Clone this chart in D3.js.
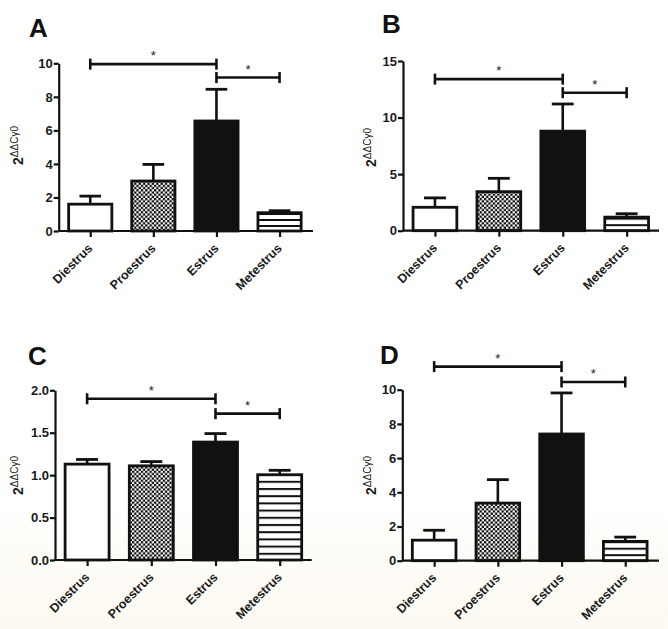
<!DOCTYPE html>
<html>
<head>
<meta charset="utf-8">
<script src="https://cdn.jsdelivr.net/npm/d3@7"></script>
<style>
  html, body { margin: 0; padding: 0; background: #fff; }
  svg { display: block; }
  text { font-family: "Liberation Sans", Arial, sans-serif; }
</style>
</head>
<body>
<svg id="chart" width="668" height="629"></svg>
<script>
// ---------------- data ----------------
const categories = ["Diestrus", "Proestrus", "Estrus", "Metestrus"];

const meansA = [1.60, 2.98, 6.56, 1.09];
const semA   = [0.48, 0.99, 1.89, 0.12];
const ticksA = [0, 2, 4, 6, 8, 10];
const sigA   = [9.95, 9.15];

const meansB = [2.07, 3.45, 8.80, 1.20];
const semB   = [0.83, 1.18, 2.40, 0.30];
const ticksB = [0, 5, 10, 15];
const sigB   = [13.4, 12.2];

const meansC = [1.13, 1.11, 1.39, 1.005];
const semC   = [0.055, 0.05, 0.10, 0.052];
const ticksC = [0, 0.5, 1.0, 1.5, 2.0];
const sigC   = [1.90, 1.725];

const meansD = [1.20, 3.37, 7.41, 1.13];
const semD   = [0.58, 1.37, 2.40, 0.25];
const ticksD = [0, 2, 4, 6, 8, 10];
const sigD   = [11.35, 10.45];

// significance comparisons (category pairs)
const sigPairs = [["Diestrus", "Estrus"], ["Estrus", "Metestrus"]];

const panelLetters = ["A", "B", "C", "D"];

// ---------------- layout ----------------
const layouts = [
  { x0: 58.7, xEnd: 313, step: 63.1, y0: 231,   yTop: 63.3,  letter: [29, 37],  ylab: 23,  ylabY: 165, fmt: d3.format("d"),  stripe: 6 },
  { x0: 403,  xEnd: 659, step: 63.9, y0: 230.7, yTop: 61,    letter: [382, 33], ylab: 376, ylabY: 167, fmt: d3.format("d"),  stripe: 6.5 },
  { x0: 55,   xEnd: 311.7, step: 64.2, y0: 560, yTop: 390.3, letter: [28, 365], ylab: 23,  ylabY: 495, fmt: d3.format(".1f"), stripe: 7.2 },
  { x0: 402.3, xEnd: 659, step: 63.7, y0: 560.7, yTop: 389.7, letter: [380, 364], ylab: 376, ylabY: 495, fmt: d3.format("d"), stripe: 6.5 }
];

const panels = [
  { means: meansA, sem: semA, ticks: ticksA, sig: sigA },
  { means: meansB, sem: semB, ticks: ticksB, sig: sigB },
  { means: meansC, sem: semC, ticks: ticksC, sig: sigC },
  { means: meansD, sem: semD, ticks: ticksD, sig: sigD }
];

const svg = d3.select("#chart");
const defs = svg.append("defs");

// background: white fading to a faint cream at the bottom
const bg = defs.append("linearGradient").attr("id", "bg").attr("x1", 0).attr("x2", 0).attr("y1", 0).attr("y2", 1);
bg.append("stop").attr("offset", "0.8").attr("stop-color", "#ffffff");
bg.append("stop").attr("offset", "0.9").attr("stop-color", "#fdfbf5");
bg.append("stop").attr("offset", "1").attr("stop-color", "#fcfaf2");
svg.append("rect").attr("width", 668).attr("height", 629).attr("fill", "url(#bg)");

// checker pattern
const chk = defs.append("pattern").attr("id", "checker").attr("patternUnits", "userSpaceOnUse")
  .attr("width", 4.4).attr("height", 4.4);
chk.append("rect").attr("width", 4.4).attr("height", 4.4).attr("fill", "#fff");
chk.append("rect").attr("width", 2.2).attr("height", 2.2).attr("fill", "#000");
chk.append("rect").attr("x", 2.2).attr("y", 2.2).attr("width", 2.2).attr("height", 2.2).attr("fill", "#000");

layouts.forEach((L, i) => {
  const p = defs.append("pattern").attr("id", "stripe" + i).attr("patternUnits", "userSpaceOnUse")
    .attr("width", 10).attr("height", L.stripe).attr("y", L.y0);
  p.append("rect").attr("width", 10).attr("height", L.stripe).attr("fill", "#fff");
  p.append("rect").attr("y", 0).attr("width", 10).attr("height", 2).attr("fill", "#111");
});

const fills = ["#fff", "url(#checker)", "#111", null];

panels.forEach((P, i) => {
  const L = layouts[i];
  const g = svg.append("g");

  const x = d3.scalePoint().domain(categories)
    .range([L.x0, L.x0 + L.step * categories.length]).padding(0.5);
  const yMax = P.ticks[P.ticks.length - 1];
  const y = d3.scaleLinear().domain([0, yMax]).range([L.y0, L.yTop]);
  const bw = L.step * 0.685;

  // bars
  g.selectAll("rect.bar").data(categories).join("rect")
    .attr("class", "bar")
    .attr("x", d => x(d) - bw / 2)
    .attr("y", (d, k) => y(P.means[k]))
    .attr("width", bw)
    .attr("height", (d, k) => L.y0 - y(P.means[k]))
    .attr("fill", (d, k) => fills[k] || ("url(#stripe" + i + ")"))
    .attr("stroke", "#111")
    .attr("stroke-width", 2.8);

  // error bars (upper only)
  g.selectAll("line.err").data(categories).join("line")
    .attr("x1", d => x(d)).attr("x2", d => x(d))
    .attr("y1", (d, k) => y(P.means[k]))
    .attr("y2", (d, k) => y(P.means[k] + P.sem[k]))
    .attr("stroke", "#111").attr("stroke-width", 2.6);
  g.selectAll("line.cap").data(categories).join("line")
    .attr("x1", d => x(d) - bw / 4).attr("x2", d => x(d) + bw / 4)
    .attr("y1", (d, k) => y(P.means[k] + P.sem[k]))
    .attr("y2", (d, k) => y(P.means[k] + P.sem[k]))
    .attr("stroke", "#111").attr("stroke-width", 2.8);

  // y axis
  const yAxis = d3.axisLeft(y).tickValues(P.ticks).tickFormat(L.fmt).tickSize(5).tickSizeOuter(0);
  const ya = g.append("g").attr("transform", `translate(${L.x0},0)`).call(yAxis);
  ya.select(".domain").attr("stroke", "#111").attr("stroke-width", 2.2);
  ya.selectAll(".tick line").attr("stroke", "#111").attr("stroke-width", 2.2);
  ya.selectAll(".tick text").attr("font-size", "13px").attr("font-weight", "bold")
    .attr("fill", "#1a1a1a").attr("x", -6).attr("font-family", "Liberation Sans, Arial, sans-serif");

  // x axis
  const xAxis = d3.axisBottom(x).tickSize(6).tickSizeOuter(0).tickFormat("");
  const xa = g.append("g").attr("transform", `translate(0,${L.y0})`).call(xAxis);
  xa.select(".domain").remove();
  xa.append("line").attr("x1", L.x0).attr("x2", L.xEnd).attr("y1", 0).attr("y2", 0)
    .attr("stroke", "#111").attr("stroke-width", 2.2);
  xa.selectAll(".tick line").attr("stroke", "#111").attr("stroke-width", 2.2);

  g.selectAll("text.cat").data(categories).join("text")
    .attr("class", "cat")
    .attr("transform", d => `translate(${x(d) + 3},${L.y0 + 18}) rotate(-45)`)
    .attr("text-anchor", "end")
    .attr("font-size", "12.5px").attr("font-weight", "bold").attr("fill", "#1a1a1a")
    .text(d => d);

  // y label (starts at the bottom, reads upward)
  const yl = g.append("text")
    .attr("transform", `translate(${L.ylab},${L.ylabY}) rotate(-90)`)
    .attr("text-anchor", "start").attr("fill", "#1a1a1a");
  yl.append("tspan").attr("font-size", "14px").attr("font-weight", "bold").text("2");
  yl.append("tspan").attr("font-size", "10px").attr("dy", "-5").text("ΔΔCγ0");

  // significance brackets
  sigPairs.forEach((pair, s) => {
    const xa1 = x(pair[0]), xa2 = x(pair[1]), yy = y(P.sig[s]);
    const sg = g.append("g").attr("stroke", "#111").attr("stroke-width", 2.6);
    sg.append("line").attr("x1", xa1).attr("x2", xa2).attr("y1", yy).attr("y2", yy);
    sg.append("line").attr("x1", xa1).attr("x2", xa1).attr("y1", yy - 5.5).attr("y2", yy + 5.5);
    sg.append("line").attr("x1", xa2).attr("x2", xa2).attr("y1", yy - 5.5).attr("y2", yy + 5.5);
    g.append("text").attr("x", (xa1 + xa2) / 2).attr("y", yy - 4)
      .attr("text-anchor", "middle").attr("font-size", "13px").attr("fill", "#222").text("*");
  });

  // panel letter
  svg.append("text").attr("x", L.letter[0]).attr("y", L.letter[1])
    .attr("font-size", "26px").attr("font-weight", "bold").attr("fill", "#111")
    .text(panelLetters[i]);
});
</script>
</body>
</html>
